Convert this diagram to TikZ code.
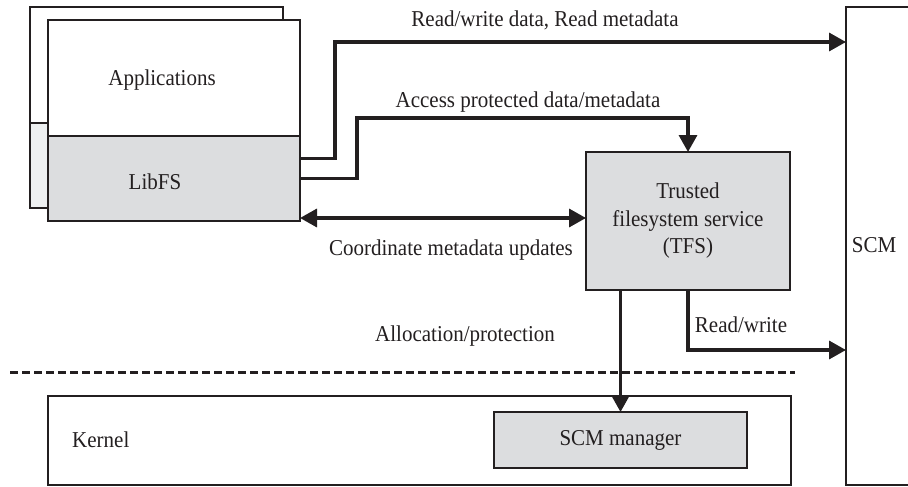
\documentclass[tikz,border=0pt]{standalone}
\usepackage{fontspec}
\setmainfont{Liberation Serif}
\usetikzlibrary{arrows.meta}

\definecolor{ink}{HTML}{231F20}
\definecolor{boxgrey}{HTML}{DCDDDF}
\definecolor{palegrey}{HTML}{EEF0F1}

% slightly tall lettering
\newcommand{\tall}[1]{\scalebox{1}[1.08]{#1}}

\tikzset{
  box/.style={draw=ink, line width=2.4pt, rectangle, inner sep=0pt, outer sep=0pt, anchor=north west},
  lbl/.style={text=ink, inner sep=0pt, font=\fontsize{21}{27.5}\selectfont},
  arr/.style={draw=ink, line width=3.4pt, -{Triangle[length=17pt,width=18pt]}},
  biarr/.style={draw=ink, line width=3.4pt, {Triangle[length=17pt,width=18pt]}-{Triangle[length=17pt,width=18pt]}},
  sep/.style={draw=ink, line width=3pt, dash pattern=on 8pt off 4pt}
}

\begin{document}
\begin{tikzpicture}[x=1pt, y=-1pt]
\useasboundingbox (0,0) rectangle (908,487);
\clip (0,0) rectangle (908,487);

% stacked application instances
\node[box, fill=white, minimum width=253pt, minimum height=116pt] (backtop) at (30,7) {};
\node[box, fill=palegrey, minimum width=253pt, minimum height=85pt] (backlow) at (30,123) {};
\node[box, fill=white, minimum width=252pt, minimum height=116pt] (apps) at (48,20) {};
\node[box, fill=boxgrey, minimum width=252pt, minimum height=85pt] (libfs) at (48,136) {};
\node[lbl] at (162,80) {\tall{Applications}};
\node[lbl] at (155,182) {\tall{LibFS}};

% trusted filesystem service
\node[box, fill=boxgrey, minimum width=204pt, minimum height=138pt] (tfs) at (586,152) {};
\node[lbl, align=center] at (tfs.center) {\tall{Trusted}\\\tall{filesystem service}\\\tall{(TFS)}};

% storage class memory
\node[box, fill=white, minimum width=80pt, minimum height=478pt] (scm) at (846,7) {};
\node[lbl] at (874,245) {\tall{SCM}};

% kernel and SCM manager
\node[box, fill=white, minimum width=743pt, minimum height=89pt] (kernel) at (48,396) {};
\node[lbl, anchor=west] at (72,440) {\tall{Kernel}};
\node[box, fill=boxgrey, minimum width=253pt, minimum height=56pt] (mgr) at (494,412) {};
\node[lbl] at (mgr.center) {\tall{SCM manager}};

% user / kernel boundary
\draw[sep] (10,372) -- (795,372);

% connectors
\draw[arr] ([yshift=20pt]libfs.east) -- ++(35,0) |- (scm.west |- 0,42);
\draw[arr] (libfs.east) -- ++(57,0) |- ([yshift=34pt]tfs.north) -- (tfs.north);
\draw[biarr] (libfs.east |- 0,218) -- (tfs.west |- 0,218);
\draw[arr] (tfs.south -| mgr.north) -- (mgr.north);
\draw[arr] (tfs.south) |- (scm.west |- 0,350);

% connector labels
\node[lbl] at (545,20) {\tall{Read/write data, Read metadata}};
\node[lbl] at (528,102) {\tall{Access protected data/metadata}};
\node[lbl] at (451,250) {\tall{Coordinate metadata updates}};
\node[lbl] at (465,336) {\tall{Allocation/protection}};
\node[lbl] at (741,325) {\tall{Read/write}};
\end{tikzpicture}
\end{document}
